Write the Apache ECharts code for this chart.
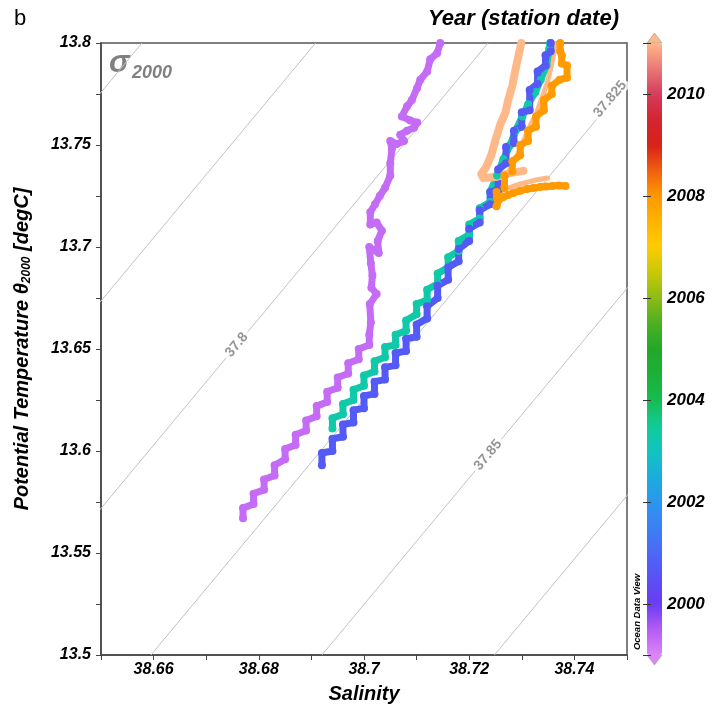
<!DOCTYPE html>
<html>
<head>
<meta charset="utf-8">
<title>theta-S sigma2000</title>
<script src="https://cdn.jsdelivr.net/npm/echarts/dist/echarts.min.js"></script>
<style>
  html, body { margin: 0; padding: 0; background: #fff; }
  #chart { width: 716px; height: 713px; }
</style>
</head>
<body>
<div id="chart"></div>
<script>
const FONT = 'Liberation Sans';

// tick labels
const salinityTicks = ['38.66', '38.68', '38.7', '38.72', '38.74'];
const thetaTicks = ['13.5', '13.55', '13.6', '13.65', '13.7', '13.75', '13.8'];
const yearTicks = ['2000', '2002', '2004', '2006', '2008', '2010'];

// colour bar, one colour every half year 1999..2011
const yearMin = 1999;
const yearMax = 2011;
const yearColors = [
  '#dc84f6', '#b45cf4', '#6a3cf2', '#5a50f4', '#4c68f6', '#3c80f4', '#2a96f0',
  '#1aaedc', '#10c4c0', '#10cc98', '#16bc50', '#1cb038', '#22a82a', '#4cb020',
  '#8cbc14', '#c8c808', '#ffcc00', '#ffb400', '#ff9800', '#f06010', '#d82018',
  '#d42430', '#d63c5c', '#ea7878', '#ffb888'
];

// sigma2000 isopycnals: salinity at theta 13.5 and at 13.8
const isoLevels = ['37.75', '37.775', '37.8', '37.825', '37.85', '37.875'];
const isoTheta = [13.5, 13.8];
const isoSalLow = [38.561, 38.594, 38.6268, 38.6595, 38.692, 38.7248];
const isoSalHigh = [38.6578, 38.6908, 38.7236, 38.7563, 38.7888, 38.8216];
const isoLabelText = ['37.8', '37.825', '37.85'];
const isoLabelSal = [38.6758, 38.7468, 38.7236];
const isoLabelTheta = [13.652, 13.7725, 13.598];

// station profiles (salinity, potential temperature), year of station
const purpleYear = 1999.3;
const purpleSal = [
  38.677, 38.677, 38.679, 38.679, 38.681, 38.681, 38.683, 38.683, 38.685, 38.685,
  38.687, 38.687, 38.689, 38.689, 38.691, 38.691, 38.693, 38.693, 38.695, 38.695,
  38.697, 38.697, 38.699, 38.699, 38.701, 38.701, 38.7013, 38.7011, 38.7024, 38.7014,
  38.7016, 38.7013, 38.701, 38.7028, 38.7026, 38.7034, 38.7024, 38.7012, 38.7012, 38.7021,
  38.703, 38.704, 38.705, 38.705, 38.7053, 38.705, 38.7062, 38.7076, 38.7069, 38.7082,
  38.7095, 38.7101, 38.7088, 38.7072, 38.7082, 38.7091, 38.7101, 38.7107, 38.712, 38.7126,
  38.7139, 38.7145
];
const purpleTheta = [
  13.567, 13.572, 13.574, 13.579, 13.581, 13.586, 13.588, 13.593, 13.596, 13.601,
  13.603, 13.608, 13.61, 13.615, 13.617, 13.622, 13.624, 13.629, 13.631, 13.636,
  13.638, 13.643, 13.645, 13.65, 13.652, 13.657, 13.663, 13.672, 13.677, 13.68,
  13.686, 13.692, 13.7, 13.697, 13.703, 13.708, 13.712, 13.711, 13.717, 13.721,
  13.725, 13.729, 13.735, 13.741, 13.748, 13.752, 13.7505, 13.752, 13.755, 13.757,
  13.7585, 13.761, 13.762, 13.764, 13.769, 13.772, 13.778, 13.782, 13.786, 13.792,
  13.795, 13.8
];

const tealYear = 2003.3;
const tealSal = [
  38.694, 38.694, 38.696, 38.696, 38.698, 38.698, 38.7, 38.7, 38.702, 38.702,
  38.704, 38.704, 38.706, 38.706, 38.708, 38.708, 38.71, 38.71, 38.712, 38.712,
  38.714, 38.714, 38.716, 38.716, 38.718, 38.718, 38.72, 38.72, 38.722, 38.722,
  38.724, 38.724, 38.7253, 38.7265, 38.7278, 38.7288, 38.7301, 38.7312, 38.7326, 38.7336,
  38.7347, 38.7352, 38.7354
];
const tealTheta = [
  13.611, 13.616, 13.618, 13.623, 13.625, 13.63, 13.632, 13.637, 13.639, 13.644,
  13.646, 13.651, 13.652, 13.657, 13.659, 13.664, 13.667, 13.672, 13.674, 13.679,
  13.682, 13.687, 13.69, 13.695, 13.698, 13.703, 13.706, 13.711, 13.714, 13.719,
  13.722, 13.727, 13.735, 13.743, 13.75, 13.757, 13.764, 13.77, 13.776, 13.782,
  13.789, 13.797, 13.8
];

const blueYear = 2000.7;
const blueSal = [
  38.692, 38.692, 38.694, 38.694, 38.696, 38.696, 38.698, 38.698, 38.7, 38.7,
  38.702, 38.702, 38.704, 38.704, 38.706, 38.706, 38.708, 38.708, 38.71, 38.71,
  38.712, 38.712, 38.714, 38.714, 38.716, 38.716, 38.718, 38.718, 38.72, 38.72,
  38.722, 38.722, 38.724, 38.724, 38.7255, 38.7255, 38.727, 38.727, 38.7285, 38.7285,
  38.73, 38.73, 38.7315, 38.7315, 38.733, 38.733, 38.7345, 38.7345, 38.7355, 38.7355
];
const blueTheta = [
  13.593, 13.599, 13.6, 13.606, 13.607, 13.613, 13.614, 13.62, 13.621, 13.627,
  13.628, 13.634, 13.635, 13.641, 13.642, 13.648, 13.649, 13.655, 13.656, 13.662,
  13.665, 13.671, 13.675, 13.681, 13.684, 13.69, 13.693, 13.699, 13.703, 13.709,
  13.712, 13.718, 13.721, 13.727, 13.728, 13.738, 13.741, 13.749, 13.751, 13.757,
  13.759, 13.766, 13.767, 13.777, 13.78, 13.786, 13.789, 13.794, 13.796, 13.8
];

const orangeYear = 2007.95;
const orangeSal = [
  38.7383, 38.737, 38.7358, 38.7346, 38.7335, 38.7322, 38.731, 38.7297, 38.7284, 38.7274,
  38.7265, 38.7256, 38.7252, 38.7252, 38.7267, 38.7267, 38.7282, 38.7282, 38.7297, 38.7297,
  38.7312, 38.7312, 38.7327, 38.7327, 38.7342, 38.7342, 38.7357, 38.7357, 38.7372, 38.7386,
  38.7386, 38.7376, 38.7376, 38.7373, 38.7373
];
const orangeTheta = [
  13.7299, 13.7301, 13.7299, 13.7296, 13.7294, 13.7289, 13.7284, 13.7276, 13.7265, 13.7255,
  13.7245, 13.723, 13.72, 13.727, 13.729, 13.735, 13.737, 13.742, 13.745, 13.75,
  13.752, 13.757, 13.759, 13.764, 13.767, 13.772, 13.775, 13.779, 13.782, 13.783,
  13.789, 13.79, 13.794, 13.796, 13.8
];

const salmonYear = 2011;
const salmonSal = [
  38.7299, 38.7293, 38.7288, 38.7282, 38.7274, 38.7269, 38.7259, 38.725, 38.7242, 38.7232,
  38.7223, 38.7227, 38.725, 38.7278, 38.7303
];
const salmonTheta = [
  13.8, 13.793, 13.787, 13.779, 13.772, 13.766, 13.76, 13.7525, 13.745, 13.739,
  13.7358, 13.7338, 13.7343, 13.7363, 13.7373
];
const salmonBSal = [
  38.7349, 38.7326, 38.7297, 38.7269, 38.7257, 38.7269, 38.7284, 38.7299, 38.7312, 38.7328,
  38.7339, 38.7349, 38.7356, 38.7362, 38.7364
];
const salmonBTheta = [
  13.7338, 13.7328, 13.7309, 13.7284, 13.7279, 13.7338, 13.7412, 13.749, 13.7574, 13.7657,
  13.7735, 13.7809, 13.7887, 13.7966, 13.8
];

function yearColor(y) {
  return echarts.color.lerp((y - yearMin) / (yearMax - yearMin), yearColors);
}

function tickFormatter(list) {
  return function (v) {
    const s = String(+v.toFixed(3));
    return list.indexOf(s) >= 0 ? s : '';
  };
}

function profile(name, sal, theta, year, width, dots) {
  const color = yearColor(year);
  return {
    name: name,
    type: 'line',
    data: sal.map((s, i) => [s, theta[i], year]),
    showSymbol: dots,
    showAllSymbol: true,
    symbol: 'circle',
    symbolSize: 8,
    itemStyle: { color: color },
    lineStyle: { color: color, width: width, cap: 'round', join: 'round' },
    silent: true,
    z: 3
  };
}

const labelStyle = {
  fontFamily: FONT, fontSize: 16, fontWeight: 'bold', fontStyle: 'italic', color: '#000'
};

const series = [];
isoLevels.forEach((lev, i) => {
  series.push({
    name: 'sigma ' + lev,
    type: 'line',
    data: [[isoSalLow[i], isoTheta[0]], [isoSalHigh[i], isoTheta[1]]],
    showSymbol: false,
    lineStyle: { color: '#c2c2c2', width: 1 },
    silent: true,
    z: 1
  });
});
series.push({
  name: 'sigma labels',
  type: 'scatter',
  data: isoLabelText.map((t, i) => ({ name: t, value: [isoLabelSal[i], isoLabelTheta[i]] })),
  symbolSize: 1,
  itemStyle: { color: 'rgba(0,0,0,0)' },
  label: {
    show: true, position: 'inside', formatter: '{b}', rotate: 50,
    fontFamily: FONT, fontSize: 14, fontWeight: 'bold', color: '#7a7a7a',
    backgroundColor: '#fff', padding: [0, 3]
  },
  silent: true,
  z: 2
});
const firstProfile = series.length;
series.push(profile('2011 b', salmonBSal, salmonBTheta, salmonYear, 5, false));
series.push(profile('1999', purpleSal, purpleTheta, purpleYear, 7, true));
series.push(profile('2003', tealSal, tealTheta, tealYear, 7, true));
series.push(profile('2000', blueSal, blueTheta, blueYear, 7, true));
series.push(profile('2008', orangeSal, orangeTheta, orangeYear, 7, true));
series.push(profile('2011', salmonSal, salmonTheta, salmonYear, 8, false));
const profileIndex = [];
for (let i = firstProfile; i < series.length; i++) profileIndex.push(i);

const chart = echarts.init(document.getElementById('chart'));
chart.setOption({
  animation: false,
  backgroundColor: '#fff',
  title: [
    { text: 'b', left: 9, top: 3, textStyle: { fontFamily: FONT, fontSize: 22, fontWeight: 'normal', color: '#000' } },
    { text: 'Year (station date)', right: 92, top: 3,
      textStyle: { fontFamily: FONT, fontSize: 22, fontWeight: 'bold', fontStyle: 'italic', color: '#000' } }
  ],
  grid: [
    { left: 101, right: 89, top: 43, bottom: 58, show: true, borderColor: '#555', borderWidth: 1.5 },
    { left: 647, top: 43, width: 15, height: 612, show: false }
  ],
  xAxis: [
    {
      type: 'value', min: 38.65, max: 38.75, interval: 0.01,
      name: 'Salinity', nameLocation: 'middle', nameGap: 29,
      nameTextStyle: { fontFamily: FONT, fontSize: 20, fontWeight: 'bold', fontStyle: 'italic', color: '#000' },
      axisLine: { lineStyle: { color: '#444', width: 1.5 } },
      axisTick: { length: 5, lineStyle: { color: '#444' } },
      axisLabel: Object.assign({ margin: 7, formatter: tickFormatter(salinityTicks) }, labelStyle),
      splitLine: { show: false }
    },
    { gridIndex: 1, type: 'value', show: false }
  ],
  yAxis: [
    {
      type: 'value', min: 13.5, max: 13.8, interval: 0.025,
      name: '{a|Potential Temperature θ}{s|2000}{a| [degC]}',
      nameLocation: 'middle', nameGap: 68,
      nameTextStyle: {
        rich: {
          a: { fontFamily: FONT, fontSize: 20, fontWeight: 'bold', fontStyle: 'italic', color: '#000', lineHeight: 22 },
          s: { fontFamily: FONT, fontSize: 12, fontWeight: 'bold', fontStyle: 'italic', color: '#000', lineHeight: 12, verticalAlign: 'bottom' }
        }
      },
      axisLine: { lineStyle: { color: '#444', width: 1.5 } },
      axisTick: { length: 5, lineStyle: { color: '#444' } },
      axisLabel: Object.assign({ margin: 10, formatter: tickFormatter(thetaTicks) }, labelStyle),
      splitLine: { show: false }
    },
    {
      gridIndex: 1, type: 'value', position: 'right', min: yearMin, max: yearMax, splitNumber: 6, z: 10,
      axisLine: { show: false },
      axisTick: { inside: true, length: 4, lineStyle: { color: '#333' } },
      axisLabel: {
        margin: 5, fontFamily: FONT, fontSize: 17, fontWeight: 'bold', fontStyle: 'italic', color: '#000',
        formatter: v => (yearTicks.indexOf(String(Math.round(v))) >= 0 ? String(Math.round(v)) : '')
      },
      splitLine: { show: false }
    },
    {
      gridIndex: 1, type: 'value', position: 'left', min: yearMin, max: yearMax, splitNumber: 6, z: 10,
      axisLine: { show: false },
      axisTick: { inside: true, length: 4, lineStyle: { color: '#333' } },
      axisLabel: { show: false },
      splitLine: { show: false }
    }
  ],
  visualMap: {
    type: 'continuous',
    min: yearMin, max: yearMax, dimension: 2,
    seriesIndex: profileIndex,
    inRange: { color: yearColors },
    calculable: false, hoverLink: false,
    itemWidth: 15, itemHeight: 612,
    left: 647, top: 43, padding: 0
  },
  graphic: [
    { type: 'text', left: 109, top: 48,
      style: { text: 'σ', fontFamily: FONT, fontSize: 31, fontWeight: 'bold', fontStyle: 'italic', fill: '#808080' } },
    { type: 'text', left: 132, top: 64,
      style: { text: '2000', fontFamily: FONT, fontSize: 18, fontWeight: 'bold', fontStyle: 'italic', fill: '#808080' } },
    { type: 'text', x: 637, y: 612, rotation: Math.PI / 2,
      style: { text: 'Ocean Data View', fontFamily: FONT, fontSize: 9.5, fontWeight: 'bold', fontStyle: 'italic',
        fill: '#000', align: 'center', verticalAlign: 'middle' } },
    { type: 'polygon', shape: { points: [[647, 43], [662, 43], [654.5, 33]] },
      style: { fill: yearColors[yearColors.length - 1], stroke: '#aaa', lineWidth: 0.8 } },
    { type: 'polygon', shape: { points: [[647, 655], [662, 655], [654.5, 665]] },
      style: { fill: yearColors[0], stroke: '#aaa', lineWidth: 0.8 } }
  ],
  series: series
});
</script>
</body>
</html>
